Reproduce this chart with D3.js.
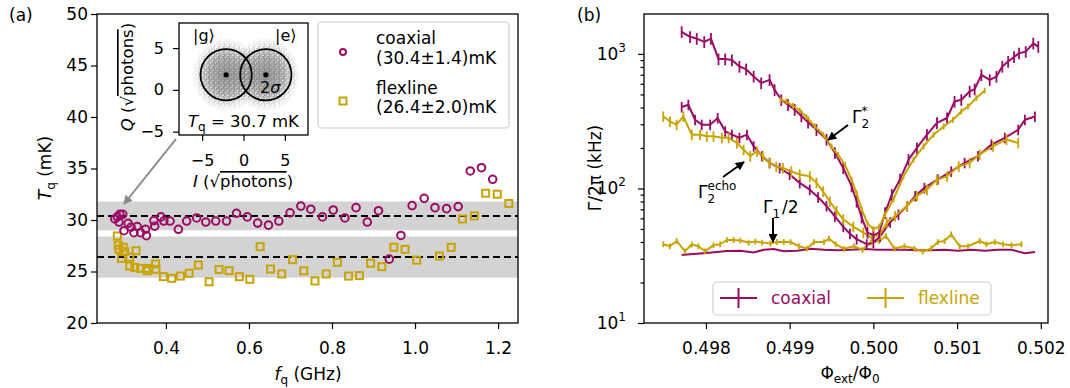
<!DOCTYPE html>
<html>
<head>
<meta charset="utf-8">
<script src="https://cdn.jsdelivr.net/npm/d3@7"></script>
<style>
body { margin: 0; background: #fff; }
svg { font-family: "DejaVu Sans", sans-serif; }
</style>
</head>
<body>
<svg id="chart" width="1070" height="388"></svg>
<script>
// ---- panel (a): qubit temperature vs frequency ----
const coaxFreq = [0.277, 0.283, 0.289, 0.296, 0.287, 0.299, 0.309, 0.316, 0.323, 0.331, 0.339, 0.351, 0.353, 0.371, 0.373, 0.388, 0.395, 0.410, 0.430, 0.450, 0.474, 0.496, 0.520, 0.546, 0.570, 0.596, 0.621, 0.647, 0.672, 0.699, 0.725, 0.749, 0.777, 0.803, 0.831, 0.858, 0.885, 0.912, 0.938, 0.966, 0.993, 1.022, 1.048, 1.076, 1.104, 1.133, 1.160, 1.187];
const coaxTemp = [30.1, 30.3, 30.55, 30.55, 29.8, 28.96, 29.68, 29.3, 28.77, 29.36, 28.77, 29.1, 28.48, 29.94, 29.4, 30.3, 29.9, 29.9, 29.1, 29.9, 30.2, 29.8, 29.9, 29.9, 30.65, 30.3, 29.7, 29.5, 29.9, 30.7, 31.35, 31.05, 30.3, 30.97, 30.2, 31.2, 29.8, 30.9, 26.2, 28.5, 31.4, 32.1, 31.2, 31.1, 31.3, 34.76, 35.08, 33.95];
const flexFreq = [0.283, 0.285, 0.287, 0.297, 0.301, 0.293, 0.313, 0.328, 0.313, 0.325, 0.339, 0.355, 0.353, 0.375, 0.376, 0.394, 0.414, 0.435, 0.456, 0.478, 0.504, 0.528, 0.552, 0.577, 0.602, 0.627, 0.652, 0.679, 0.705, 0.732, 0.759, 0.786, 0.813, 0.840, 0.866, 0.893, 0.920, 0.949, 0.976, 1.004, 1.059, 1.087, 1.114, 1.143, 1.170, 1.198, 1.226];
const flexTemp = [28.45, 27.57, 27.15, 27.35, 26.92, 26.28, 26.38, 27.02, 25.53, 25.4, 25.3, 25.08, 25.3, 25.73, 25.21, 24.5, 24.34, 24.56, 24.83, 25.63, 24.0, 25.2, 25.08, 24.5, 24.24, 27.41, 25.24, 24.76, 26.15, 25.07, 24.08, 24.76, 25.89, 24.56, 24.6, 25.8, 25.47, 27.35, 27.15, 26.1, 26.5, 27.35, 30.1, 30.4, 32.6, 32.5, 31.6];
const meanTemps = [{name: "coaxial", mean: 30.4, std: 1.4}, {name: "flexline", mean: 26.4, std: 2.0}];
const freqTicks = [0.4, 0.6, 0.8, 1.0, 1.2];
const tempTicks = [20, 25, 30, 35, 40, 45, 50];

// inset: IQ clusters (sqrt photons)
const clusterI = [-2.1, 2.7];
const clusterQ = [1.8, 1.8];
const clusterSigma = 1.55;
const insetTicks = [-5, 0, 5];

// ---- panel (b): decay rates vs flux ----
const coaxT2sPhi = [0.49771, 0.49781, 0.49789, 0.49798, 0.49806, 0.49815, 0.49823, 0.49831, 0.49840, 0.49848, 0.49857, 0.49866, 0.49876, 0.49882, 0.49890, 0.49898, 0.49906, 0.49914, 0.49922, 0.49932, 0.49944, 0.49954, 0.49964, 0.49974, 0.49980, 0.49986, 0.49993, 0.50000, 0.50007, 0.50014, 0.50022, 0.50032, 0.50042, 0.50052, 0.50064, 0.50076, 0.50088, 0.50097, 0.50105, 0.50115, 0.50121, 0.50129, 0.50139, 0.50147, 0.50154, 0.50161, 0.50168, 0.50174, 0.50182, 0.50191, 0.50197];
const coaxT2sRate = [1460, 1340, 1300, 1230, 1300, 915, 915, 900, 806, 770, 680, 607, 642, 541, 456, 419, 385, 345, 310, 273, 231, 184, 142, 104, 80, 61, 47, 45, 47, 66, 90, 117, 164, 200, 251, 307, 334, 443, 456, 526, 547, 698, 642, 679, 806, 877, 950, 1012, 1040, 1199, 1132];
const flexT2sPhi = [0.49889, 0.49896, 0.49904, 0.49912, 0.49920, 0.49930, 0.49940, 0.49950, 0.49958, 0.49966, 0.49974, 0.49980, 0.49986, 0.49993, 0.50000, 0.50007, 0.50014, 0.50024, 0.50036, 0.50048, 0.50060, 0.50072, 0.50084, 0.50095, 0.50105, 0.50113, 0.50123, 0.50133];
const flexT2sRate = [456, 443, 412, 380, 340, 290, 251, 205, 178, 150, 116, 92, 70, 55, 50, 52, 64, 83, 123, 164, 206, 251, 289, 324, 373, 407, 470, 534];
const coaxEchoPhi = [0.49771, 0.49779, 0.49787, 0.49795, 0.49805, 0.49814, 0.49823, 0.49831, 0.49840, 0.49849, 0.49857, 0.49867, 0.49876, 0.49888, 0.49900, 0.49912, 0.49924, 0.49934, 0.49944, 0.49954, 0.49964, 0.49972, 0.49980, 0.49992, 0.50000, 0.50008, 0.50020, 0.50030, 0.50040, 0.50050, 0.50061, 0.50077, 0.50093, 0.50109, 0.50125, 0.50141, 0.50157, 0.50173, 0.50181, 0.50193];
const coaxEchoRate = [403, 419, 324, 298, 298, 334, 266, 251, 238, 251, 206, 174, 155, 142, 127, 110, 98, 86, 74, 62, 52, 46, 42, 38.5, 39.6, 44, 56, 64, 74, 88, 101, 117, 134, 155, 174, 212, 238, 273, 324, 343];
const flexEchoPhi = [0.49749, 0.49757, 0.49765, 0.49773, 0.49783, 0.49793, 0.49801, 0.49809, 0.49819, 0.49827, 0.49837, 0.49845, 0.49853, 0.49861, 0.49868, 0.49876, 0.49884, 0.49892, 0.49902, 0.49912, 0.49924, 0.49932, 0.49940, 0.49948, 0.49956, 0.49964, 0.49976, 0.49988, 0.49998, 0.50008, 0.50016, 0.50026, 0.50040, 0.50052, 0.50064, 0.50076, 0.50088, 0.50102, 0.50115, 0.50127, 0.50143, 0.50159, 0.50173];
const flexEchoRate = [343, 315, 298, 343, 251, 251, 244, 244, 238, 238, 218, 194, 174, 189, 174, 155, 145, 142, 134, 127, 123, 110, 95, 80, 68, 59, 52, 47, 43, 45.6, 55.7, 62.3, 74, 88, 98, 116, 123, 146, 155, 179, 206, 231, 218];
const coaxT1Phi = [0.49771, 0.49781, 0.49797, 0.49813, 0.49825, 0.49841, 0.49857, 0.49869, 0.49881, 0.49893, 0.49909, 0.49925, 0.49941, 0.49957, 0.49973, 0.49989, 0.50005, 0.50021, 0.50037, 0.50053, 0.50069, 0.50085, 0.50101, 0.50117, 0.50133, 0.50149, 0.50165, 0.50181, 0.50193];
const coaxT1Rate = [32, 32.4, 33, 33.7, 34.3, 34.4, 33.4, 35, 35.5, 34.1, 34.4, 35.6, 35, 34.8, 35, 35.5, 35, 35, 35, 34.8, 34.8, 35, 34.5, 35, 34.5, 35, 35, 33, 33.7];
const flexT1Phi = [0.49749, 0.49757, 0.49765, 0.49775, 0.49783, 0.49791, 0.49799, 0.49809, 0.49817, 0.49825, 0.49833, 0.49841, 0.49851, 0.49859, 0.49867, 0.49877, 0.49885, 0.49893, 0.49901, 0.49911, 0.49921, 0.49929, 0.49941, 0.49947, 0.49955, 0.49965, 0.49977, 0.49987, 0.49997, 0.50007, 0.50015, 0.50025, 0.50037, 0.50049, 0.50059, 0.50069, 0.50077, 0.50085, 0.50093, 0.50103, 0.50113, 0.50127, 0.50135, 0.50145, 0.50155, 0.50165, 0.50177];
const flexT1Rate = [38.5, 37.2, 40.7, 34.1, 38.3, 37.2, 34.1, 37.9, 38.5, 41.4, 41.4, 41, 39.6, 40.3, 39.6, 39, 40, 40, 40, 37.2, 35.8, 40, 40, 42.4, 38.5, 35.6, 37.2, 35, 39.6, 40.7, 44.3, 35.8, 37.2, 35.8, 33.9, 35.8, 40, 40.7, 45.6, 37.2, 37.2, 40.7, 38.5, 40, 38.5, 37.9, 38.5];
const phiTicks = [0.498, 0.499, 0.500, 0.501, 0.502];
const rateMajorTicks = [10, 100, 1000];

const purple = "#9b0b64";
const gold = "#c9a400";
const fontSize = 17;

const svg = d3.select("#chart");
const defs = svg.append("defs");

function arrowMarker(id, color) {
	defs.append("marker")
		.attr("id", id)
		.attr("viewBox", "0 0 10 10")
		.attr("refX", 9).attr("refY", 5)
		.attr("markerUnits", "userSpaceOnUse")
		.attr("markerWidth", 10).attr("markerHeight", 9)
		.attr("orient", "auto")
		.append("path").attr("d", "M0,0 L10,5 L0,10 z").attr("fill", color);
}
arrowMarker("arrowBlack", "#000");
arrowMarker("arrowGray", "#888");

function styleAxis(g, fs) {
	g.select(".domain").remove();
	g.attr("font-family", "DejaVu Sans").attr("font-size", fs);
	g.selectAll(".tick line").attr("stroke", "#000").attr("stroke-width", 1.2);
	g.selectAll(".tick text").attr("fill", "#000");
}

function frame(x0, y0, x1, y1) {
	svg.append("rect")
		.attr("x", x0).attr("y", y0)
		.attr("width", x1 - x0).attr("height", y1 - y0)
		.attr("fill", "none").attr("stroke", "#000").attr("stroke-width", 1.3);
}

// ================= panel (a) =================
const xA = d3.scaleLinear().domain([0.234, 1.248]).range([97, 518]);
const yA = d3.scaleLinear().domain([20, 50]).range([323, 14]);
const [ax0, ax1] = xA.range();

// gray bands and dashed means
svg.append("g").selectAll("rect")
	.data(meanTemps)
	.join("rect")
	.attr("x", ax0).attr("width", ax1 - ax0)
	.attr("y", d => yA(d.mean + d.std))
	.attr("height", d => yA(d.mean - d.std) - yA(d.mean + d.std))
	.attr("fill", "#d3d3d3");
svg.append("g").selectAll("line")
	.data(meanTemps)
	.join("line")
	.attr("x1", ax0).attr("x2", ax1)
	.attr("y1", d => yA(d.mean)).attr("y2", d => yA(d.mean))
	.attr("stroke", "#000").attr("stroke-width", 2).attr("stroke-dasharray", "7,4");

// markers
svg.append("g").selectAll("rect")
	.data(d3.zip(flexFreq, flexTemp))
	.join("rect")
	.attr("x", d => xA(d[0]) - 3.5).attr("y", d => yA(d[1]) - 3.5)
	.attr("width", 7).attr("height", 7)
	.attr("fill", "none").attr("stroke", gold).attr("stroke-width", 2);
svg.append("g").selectAll("circle")
	.data(d3.zip(coaxFreq, coaxTemp))
	.join("circle")
	.attr("cx", d => xA(d[0])).attr("cy", d => yA(d[1])).attr("r", 3.8)
	.attr("fill", "none").attr("stroke", purple).attr("stroke-width", 2);

// axes
const gxA = svg.append("g").attr("transform", "translate(0,323)")
	.call(d3.axisBottom(xA).tickValues(freqTicks).tickFormat(d3.format(".1f")).tickSize(6).tickPadding(13));
styleAxis(gxA, fontSize);
const gyA = svg.append("g").attr("transform", "translate(97,0)")
	.call(d3.axisLeft(yA).tickValues(tempTicks).tickFormat(d3.format("d")).tickSize(6).tickPadding(3));
styleAxis(gyA, fontSize);
frame(97, 14, 518, 323);

// axis labels
const xLabA = svg.append("text").attr("x", 308).attr("y", 380).attr("text-anchor", "middle").attr("font-size", fontSize);
xLabA.append("tspan").attr("font-style", "italic").text("f");
xLabA.append("tspan").attr("font-size", 12).attr("dy", 4).text("q");
xLabA.append("tspan").attr("dy", -4).text(" (GHz)");
const yLabA = svg.append("text").attr("transform", "translate(51,168) rotate(-90)").attr("text-anchor", "middle").attr("font-size", fontSize);
yLabA.append("tspan").attr("font-style", "italic").text("T");
yLabA.append("tspan").attr("font-size", 12).attr("dy", 4).text("q");
yLabA.append("tspan").attr("dy", -4).text(" (mK)");
svg.append("text").attr("x", 9).attr("y", 21).attr("font-size", fontSize).text("(a)");

// legend (a)
svg.append("rect").attr("x", 318).attr("y", 22).attr("width", 191).attr("height", 106).attr("rx", 4)
	.attr("fill", "#fff").attr("fill-opacity", 0.85).attr("stroke", "#d0d0d0").attr("stroke-width", 1.2);
svg.append("circle").attr("cx", 343).attr("cy", 52).attr("r", 3).attr("fill", "none").attr("stroke", purple).attr("stroke-width", 2);
svg.append("rect").attr("x", 339.5).attr("y", 97.5).attr("width", 7).attr("height", 7).attr("fill", "none").attr("stroke", gold).attr("stroke-width", 2);
[["coaxial", 44], [`(${meanTemps[0].mean.toFixed(1)}±${meanTemps[0].std.toFixed(1)})mK`, 64],
 ["flexline", 94], [`(${meanTemps[1].mean.toFixed(1)}±${meanTemps[1].std.toFixed(1)})mK`, 113]].forEach(([t, y]) => {
	svg.append("text").attr("x", 376).attr("y", y).attr("font-size", fontSize).text(t);
});

// gray pointer from inset to first point
svg.append("line").attr("x1", 176).attr("y1", 139).attr("x2", 124).attr("y2", 204)
	.attr("stroke", "#888").attr("stroke-width", 2).attr("marker-end", "url(#arrowGray)");

// ---- inset ----
const xI = d3.scaleLinear().domain([-7.8, 7.8]).range([179, 308]);
const yI = d3.scaleLinear().domain([-5.4, 8.0]).range([135, 23]);
svg.append("rect").attr("x", 179).attr("y", 23).attr("width", 129).attr("height", 112).attr("fill", "#fff");
defs.append("clipPath").attr("id", "insetClip").append("rect").attr("x", 179).attr("y", 23).attr("width", 129).attr("height", 112);

const pat = defs.append("pattern").attr("id", "dots").attr("patternUnits", "userSpaceOnUse").attr("width", 5).attr("height", 5);
[[0.3, 0.4], [2.6, 1.1], [1.2, 2.9], [3.7, 3.4], [4.1, 0.2], [0.4, 4.3], [2.3, 4.6], [3.3, 2.2]].forEach(([x, y]) => {
	pat.append("rect").attr("x", x).attr("y", y).attr("width", 1.3).attr("height", 1.3).attr("fill", "#7c7c7c");
});
const fade = defs.append("radialGradient").attr("id", "fade");
fade.append("stop").attr("offset", 0).attr("stop-color", "#fff");
fade.append("stop").attr("offset", 0.5).attr("stop-color", "#fff");
fade.append("stop").attr("offset", 1).attr("stop-color", "#000");
defs.append("mask").attr("id", "cloudMask").attr("maskContentUnits", "objectBoundingBox")
	.append("circle").attr("cx", 0.5).attr("cy", 0.5).attr("r", 0.5).attr("fill", "url(#fade)");
const core = defs.append("radialGradient").attr("id", "core");
core.append("stop").attr("offset", 0).attr("stop-color", "#8f8f8f").attr("stop-opacity", 0.85);
core.append("stop").attr("offset", 0.55).attr("stop-color", "#8f8f8f").attr("stop-opacity", 0.5);
core.append("stop").attr("offset", 1).attr("stop-color", "#8f8f8f").attr("stop-opacity", 0);

const inset = svg.append("g").attr("clip-path", "url(#insetClip)");
const clusters = d3.zip(clusterI, clusterQ);
const kx = xI(1) - xI(0), ky = yI(0) - yI(1);
inset.selectAll("ellipse.core").data(clusters).join("ellipse")
	.attr("cx", d => xI(d[0])).attr("cy", d => yI(d[1]))
	.attr("rx", clusterSigma * 2.2 * kx).attr("ry", clusterSigma * 2.3 * ky)
	.attr("fill", "url(#core)");
inset.selectAll("ellipse.dots").data(clusters).join("ellipse")
	.attr("cx", d => xI(d[0])).attr("cy", d => yI(d[1]))
	.attr("rx", clusterSigma * 2.7 * kx).attr("ry", clusterSigma * 2.9 * ky)
	.attr("fill", "url(#dots)").attr("mask", "url(#cloudMask)");
inset.selectAll("circle.ring").data(clusters).join("circle")
	.attr("cx", d => xI(d[0])).attr("cy", d => yI(d[1]))
	.attr("r", 2 * clusterSigma * kx)
	.attr("fill", "none").attr("stroke", "#000").attr("stroke-width", 1.8);
inset.selectAll("circle.center").data(clusters).join("circle")
	.attr("cx", d => xI(d[0])).attr("cy", d => yI(d[1])).attr("r", 2.6).attr("fill", "#000");

const gxI = svg.append("g").attr("transform", "translate(0,135)")
	.call(d3.axisBottom(xI).tickValues(insetTicks).tickSize(6).tickPadding(14));
styleAxis(gxI, 16);
const gyI = svg.append("g").attr("transform", "translate(179,0)")
	.call(d3.axisLeft(yI).tickValues(insetTicks).tickSize(6).tickPadding(9));
styleAxis(gyI, 16);
frame(179, 23, 308, 135);

svg.append("text").attr("x", 193).attr("y", 41).attr("font-size", 16).text("|g⟩");
svg.append("text").attr("x", 275).attr("y", 41).attr("font-size", 16).text("|e⟩");
const sig = svg.append("text").attr("x", 260).attr("y", 93).attr("font-size", 16);
sig.append("tspan").text("2");
sig.append("tspan").attr("font-style", "italic").text("σ");
const tq = svg.append("text").attr("x", 188).attr("y", 127).attr("font-size", 16.5);
tq.append("tspan").attr("font-style", "italic").text("T");
tq.append("tspan").attr("font-size", 12).attr("dy", 4).text("q");
tq.append("tspan").attr("dy", -4).text(" = 30.7 mK");

const iLab = svg.append("text").attr("x", 243).attr("y", 187).attr("text-anchor", "middle").attr("font-size", 16.5);
iLab.append("tspan").attr("font-style", "italic").text("I");
iLab.append("tspan").text(" (√");
iLab.append("tspan").style("text-decoration", "overline").text("photons");
iLab.append("tspan").text(")");
const qLab = svg.append("text").attr("transform", "translate(133,77) rotate(-90)").attr("text-anchor", "middle").attr("font-size", 16.5);
qLab.append("tspan").attr("font-style", "italic").text("Q");
qLab.append("tspan").text(" (√");
qLab.append("tspan").style("text-decoration", "overline").text("photons");
qLab.append("tspan").text(")");

// ================= panel (b) =================
const xB = d3.scaleLinear().domain([0.49726, 0.502086]).range([644, 1048]);
const yB = d3.scaleLog().domain([10, 1980]).range([323, 14]);

const seriesB = [
	{phi: coaxT1Phi, rate: coaxT1Rate, color: purple, err: 0},
	{phi: flexT1Phi, rate: flexT1Rate, color: gold, err: 0.05},
	{phi: coaxEchoPhi, rate: coaxEchoRate, color: purple, err: 0.09},
	{phi: flexEchoPhi, rate: flexEchoRate, color: gold, err: 0.09},
	{phi: coaxT2sPhi, rate: coaxT2sRate, color: purple, err: 0.1},
	{phi: flexT2sPhi, rate: flexT2sRate, color: gold, err: 0.05},
];
const lineB = d3.line().x(d => xB(d[0])).y(d => yB(d[1]));
seriesB.forEach(s => {
	const pts = d3.zip(s.phi, s.rate);
	const g = svg.append("g");
	g.append("path").attr("d", lineB(pts)).attr("fill", "none").attr("stroke", s.color).attr("stroke-width", 2).attr("stroke-linejoin", "round");
	if (s.err > 0) {
		g.selectAll("line").data(pts).join("line")
			.attr("x1", d => xB(d[0])).attr("x2", d => xB(d[0]))
			.attr("y1", d => yB(d[1] * (1 + s.err))).attr("y2", d => yB(d[1] * (1 - s.err)))
			.attr("stroke", s.color).attr("stroke-width", 1.8);
	}
});

// axes (b)
const gxB = svg.append("g").attr("transform", "translate(0,323)")
	.call(d3.axisBottom(xB).tickValues(phiTicks).tickFormat(d3.format(".3f")).tickSize(6).tickPadding(13));
styleAxis(gxB, fontSize);
const minorTicks = [];
rateMajorTicks.forEach(m => { for (let k = 2; k <= 9; k++) if (m * k < 1980) minorTicks.push(m * k); });
const gyBm = svg.append("g").attr("transform", "translate(644,0)")
	.call(d3.axisLeft(yB).tickValues(minorTicks).tickFormat("").tickSize(3.5));
styleAxis(gyBm, fontSize);
const gyB = svg.append("g").attr("transform", "translate(644,0)")
	.call(d3.axisLeft(yB).tickValues(rateMajorTicks).tickFormat("").tickSize(6));
styleAxis(gyB, fontSize);
rateMajorTicks.forEach(m => {
	const t = svg.append("text").attr("x", 626).attr("y", yB(m) + 6).attr("text-anchor", "end").attr("font-size", fontSize);
	t.append("tspan").text("10");
	t.append("tspan").attr("font-size", 12).attr("dy", -8).text(Math.round(Math.log10(m)));
});
frame(644, 14, 1048, 323);

const xLabB = svg.append("text").attr("x", 850).attr("y", 379).attr("text-anchor", "middle").attr("font-size", fontSize);
xLabB.append("tspan").text("Φ");
xLabB.append("tspan").attr("font-size", 12).attr("dy", 4).text("ext");
xLabB.append("tspan").attr("dy", -4).text("/Φ");
xLabB.append("tspan").attr("font-size", 12).attr("dy", 4).text("0");
svg.append("text").attr("transform", "translate(601,168) rotate(-90)").attr("text-anchor", "middle")
	.attr("font-size", fontSize).text("Γ/2π (kHz)");
svg.append("text").attr("x", 577).attr("y", 21).attr("font-size", fontSize).text("(b)");

// annotations
function annot(x, y, sub, sup) {
	const g = svg.append("g");
	g.append("text").attr("x", x).attr("y", y).attr("font-size", fontSize).text("Γ");
	g.append("text").attr("x", x + 9.5).attr("y", y + 5).attr("font-size", 12).text(sub);
	if (sup) g.append("text").attr("x", x + 9.5).attr("y", y - 8).attr("font-size", 12).text(sup);
	return g;
}
annot(852, 123, "2", "*");
annot(698, 198, "2", "echo");
const g1 = annot(763, 213, "1", null);
g1.append("text").attr("x", 782).attr("y", 213).attr("font-size", fontSize).text("/2");
[[848, 125, 828, 140], [723, 177, 744, 162], [773, 218, 773, 242]].forEach(([x1, y1, x2, y2]) => {
	svg.append("line").attr("x1", x1).attr("y1", y1).attr("x2", x2).attr("y2", y2)
		.attr("stroke", "#000").attr("stroke-width", 2).attr("marker-end", "url(#arrowBlack)");
});

// legend (b)
svg.append("rect").attr("x", 713).attr("y", 282).attr("width", 278).attr("height", 33).attr("rx", 4)
	.attr("fill", "#fff").attr("fill-opacity", 0.85).attr("stroke", "#d0d0d0").attr("stroke-width", 1.2);
[{x: 720, color: purple, label: "coaxial"}, {x: 867, color: gold, label: "flexline"}].forEach(e => {
	svg.append("line").attr("x1", e.x).attr("x2", e.x + 37).attr("y1", 298).attr("y2", 298).attr("stroke", e.color).attr("stroke-width", 2);
	svg.append("line").attr("x1", e.x + 18.5).attr("x2", e.x + 18.5).attr("y1", 288).attr("y2", 308).attr("stroke", e.color).attr("stroke-width", 2);
	svg.append("text").attr("x", e.x + 51).attr("y", 304).attr("font-size", fontSize).attr("fill", e.color).text(e.label);
});
</script>
</body>
</html>
